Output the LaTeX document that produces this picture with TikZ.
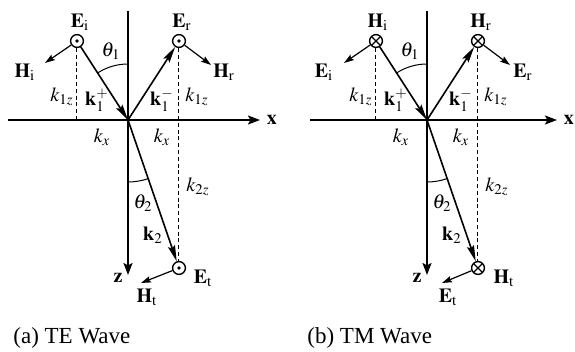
\documentclass[tikz,border=0pt]{standalone}
\usepackage{mathptmx}
\usepackage{fontspec}
\setmainfont{Liberation Serif}
\usetikzlibrary{arrows.meta}
\tikzset{
  axarr/.style={line width=1pt, -{Stealth[length=6pt,width=4.5pt,inset=1.2pt]}},
  karr/.style={line width=0.8pt, -{Stealth[length=8pt,width=3.6pt,inset=1.2pt]}},
  farr/.style={line width=0.6pt, -{Stealth[length=5pt,width=3.2pt,inset=0.8pt]}},
  proj/.style={line width=0.5pt, dash pattern=on 2pt off 1.4pt},
  ang/.style={line width=0.5pt},
  lbl/.style={font=\fontsize{10}{12}\selectfont, inner sep=0pt},
  capt/.style={font=\fontsize{11.5}{13}\selectfont, inner sep=0pt, anchor=west},
  fld/.style={circle, draw, line width=0.7pt, minimum size=6.4pt, inner sep=0pt, fill=white},
  outc/.style={fld, path picture={\fill[black] (path picture bounding box.center) circle (0.9pt);}},
  inc/.style={fld, path picture={\draw[line width=0.6pt]
      (path picture bounding box.south west) -- (path picture bounding box.north east)
      (path picture bounding box.north west) -- (path picture bounding box.south east);}},
}

\begin{document}
\begin{tikzpicture}[x=0.5pt, y=-0.5pt]
  \useasboundingbox (0,0) rectangle (575,352);

  % (a) TE wave
  \coordinate (Oa) at (128,120);
  \coordinate (xa0) at (8,120); \coordinate (xa1) at (260,120);
  \coordinate (za0) at (128,11); \coordinate (za1) at (128,275);
  \draw[axarr] (xa0) -- (xa1);
  \draw[axarr] (za0) -- (za1);
  \node[outc] (ai) at (77,41) {};
  \node[outc] (ar) at (179,41) {};
  \node[outc] (at) at (179,268) {};
  \draw[proj] (ai.south) -- (ai.south |- Oa);
  \draw[proj] (ar.south) -- (at.north);
  \draw[karr] (ai) -- (Oa);
  \draw[karr] (Oa) -- (ar);
  \draw[karr] (Oa) -- (at);
  \draw[ang] (Oa) ++(237.2:56) arc[start angle=237.2, end angle=270, radius=56];
  \draw[ang] (Oa) ++(71:62) arc[start angle=71, end angle=90, radius=62];
  \coordinate (ahi) at (45,63); \coordinate (ahr) at (211,65); \coordinate (aht) at (141,283);
  \draw[farr] (ai) -- (ahi);
  \draw[farr] (ar) -- (ahr);
  \draw[farr] (at) -- (aht);
  \node[lbl] (aEi) at (80,22) {$\mathbf{E}_{\mathrm{i}}$};
  \node[lbl] (aEr) at (182,22) {$\mathbf{E}_{\mathrm{r}}$};
  \node[lbl] (aEt) at (203,278) {$\mathbf{E}_{\mathrm{t}}$};
  \node[lbl] (aHi) at (25,72) {$\mathbf{H}_{\mathrm{i}}$};
  \node[lbl] (aHr) at (224,72) {$\mathbf{H}_{\mathrm{r}}$};
  \node[lbl] (aHt) at (147,297) {$\mathbf{H}_{\mathrm{t}}$};
  \node[lbl] (ath1) at (111,51) {$\theta_1$};
  \node[lbl] (ath2) at (143,203) {$\theta_2$};
  \node[lbl] (akzl) at (62,97) {$k_{1z}$};
  \node[lbl] (akzr) at (197,97) {$k_{1z}$};
  \node[lbl] (ak1p) at (97,100) {$\mathbf{k}_1^+$};
  \node[lbl] (ak1m) at (162,100) {$\mathbf{k}_1^-$};
  \node[lbl] (akxl) at (102,137) {$k_x$};
  \node[lbl] (akxr) at (162,137) {$k_x$};
  \node[lbl] (ak2z) at (198,187) {$k_{2z}$};
  \node[lbl] (ak2) at (153,235) {$\mathbf{k}_2$};
  \node[lbl] (ax) at (272,120) {$\mathbf{x}$};
  \node[lbl] (az) at (118,278) {$\mathbf{z}$};
  \node[capt] (capa) at (13,338) {(a) TE Wave};

  % (b) TM wave
  \begin{scope}[shift={(299,0)}]
  \coordinate (Ob) at (128,120);
  \coordinate (xb0) at (11,120); \coordinate (xb1) at (258,120);
  \coordinate (zb0) at (128,11); \coordinate (zb1) at (128,275);
  \draw[axarr] (xb0) -- (xb1);
  \draw[axarr] (zb0) -- (zb1);
  \node[inc] (bi) at (77,41) {};
  \node[inc] (br) at (179,41) {};
  \node[inc] (bt) at (179,268) {};
  \draw[proj] (bi.south) -- (bi.south |- Ob);
  \draw[proj] (br.south) -- (bt.north);
  \draw[karr] (bi) -- (Ob);
  \draw[karr] (Ob) -- (br);
  \draw[karr] (Ob) -- (bt);
  \draw[ang] (Ob) ++(237.2:56) arc[start angle=237.2, end angle=270, radius=56];
  \draw[ang] (Ob) ++(71:62) arc[start angle=71, end angle=90, radius=62];
  \coordinate (bei) at (45,63); \coordinate (ber) at (211,65); \coordinate (bet) at (143,283);
  \draw[farr] (bi) -- (bei);
  \draw[farr] (br) -- (ber);
  \draw[farr] (bt) -- (bet);
  \node[lbl] (bHi) at (79,22) {$\mathbf{H}_{\mathrm{i}}$};
  \node[lbl] (bHr) at (182,22) {$\mathbf{H}_{\mathrm{r}}$};
  \node[lbl] (bHt) at (205,278) {$\mathbf{H}_{\mathrm{t}}$};
  \node[lbl] (bEi) at (25,72) {$\mathbf{E}_{\mathrm{i}}$};
  \node[lbl] (bEr) at (224,72) {$\mathbf{E}_{\mathrm{r}}$};
  \node[lbl] (bEt) at (149,297) {$\mathbf{E}_{\mathrm{t}}$};
  \node[lbl] (bth1) at (111,51) {$\theta_1$};
  \node[lbl] (bth2) at (143,203) {$\theta_2$};
  \node[lbl] (bkzl) at (62,97) {$k_{1z}$};
  \node[lbl] (bkzr) at (197,97) {$k_{1z}$};
  \node[lbl] (bk1p) at (97,100) {$\mathbf{k}_1^+$};
  \node[lbl] (bk1m) at (162,100) {$\mathbf{k}_1^-$};
  \node[lbl] (bkxl) at (102,137) {$k_x$};
  \node[lbl] (bkxr) at (162,137) {$k_x$};
  \node[lbl] (bk2z) at (198,187) {$k_{2z}$};
  \node[lbl] (bk2) at (153,235) {$\mathbf{k}_2$};
  \node[lbl] (bx) at (270,120) {$\mathbf{x}$};
  \node[lbl] (bz) at (118,278) {$\mathbf{z}$};
  \node[capt] (capb) at (8,338) {(b) TM Wave};
  \end{scope}
\end{tikzpicture}
\end{document}
